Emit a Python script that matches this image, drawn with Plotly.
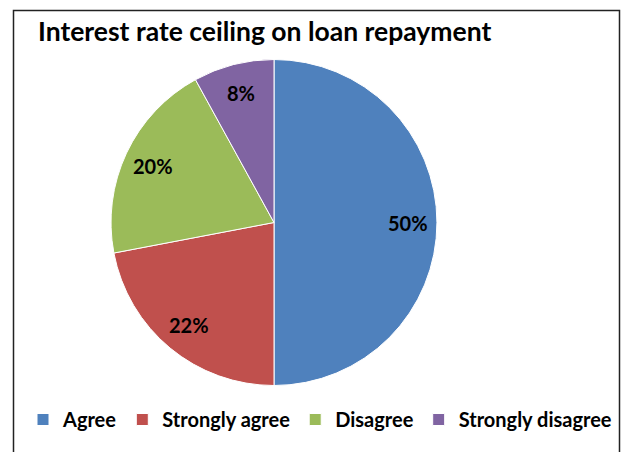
import math
import plotly.graph_objects as go

# Survey responses on an interest rate ceiling for loan repayment
categories = ["Agree", "Strongly agree", "Disagree", "Strongly disagree"]
shares = [50, 22, 20, 8]
slice_colors = ["#4F81BD", "#C0504D", "#9BBB59", "#8064A2"]

W, H = 622, 452
FONT = "Lato"

# pie geometry in pixels
CX, CY, R = 274, 222.5, 163
LABEL_R = 0.82 * R

fig = go.Figure(
    go.Pie(
        labels=categories,
        values=shares,
        sort=False,
        direction="clockwise",
        rotation=0,
        marker=dict(colors=slice_colors, line=dict(color="white", width=1)),
        textinfo="none",
        hoverinfo="label+percent",
        domain=dict(x=[(CX - R) / W, (CX + R) / W], y=[1 - (CY + R) / H, 1 - (CY - R) / H]),
    )
)

# percentage labels placed at each slice's mid-angle (clockwise from 12 o'clock)
total = sum(shares)
annotations = []
cum = 0
for v in shares:
    mid = (cum + v / 2) / total * 2 * math.pi
    cum += v
    px = CX + LABEL_R * math.sin(mid)
    py = CY - LABEL_R * math.cos(mid)
    annotations.append(
        dict(
            text=f"{v}%",
            x=px / W,
            y=1 - py / H,
            xref="paper",
            yref="paper",
            xanchor="center",
            yanchor="middle",
            showarrow=False,
            font=dict(family=FONT, size=20, color="black", weight="bold"),
        )
    )

annotations.append(
    dict(
        text="Interest rate ceiling on loan repayment",
        x=36 / W,
        y=1 - 31 / H,
        xref="paper",
        yref="paper",
        xanchor="left",
        yanchor="middle",
        showarrow=False,
        font=dict(family=FONT, size=26.5, color="black", weight="bold"),
    )
)

fig.update_layout(
    width=W,
    height=H,
    margin=dict(l=0, r=0, t=0, b=0),
    paper_bgcolor="white",
    plot_bgcolor="white",
    showlegend=True,
    legend=dict(
        orientation="h",
        x=23 / W,
        y=1 - 400 / H,
        xanchor="left",
        yanchor="top",
        font=dict(family=FONT, size=20, color="black", weight="bold"),
        itemwidth=30,
        traceorder="normal",
    ),
    annotations=annotations,
    shapes=[
        dict(
            type="rect",
            xref="paper",
            yref="paper",
            x0=13.5 / W,
            x1=619.5 / W,
            y0=-0.05,
            y1=1 - 10.5 / H,
            line=dict(color="#222222", width=1.5),
            fillcolor="rgba(0,0,0,0)",
        )
    ],
)

fig.write_html("out.html")
